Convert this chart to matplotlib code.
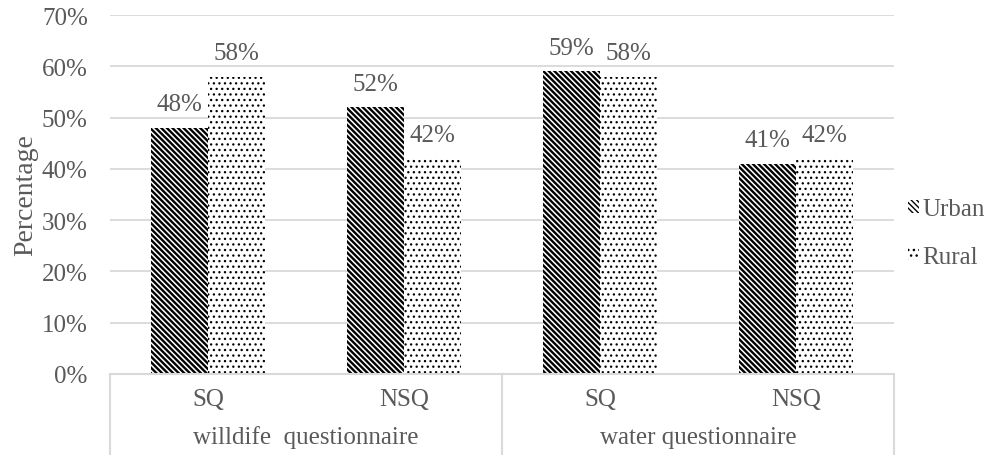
import numpy as np
import matplotlib.pyplot as plt
import matplotlib as mpl
import matplotlib.transforms as mtransforms

mpl.rcParams["font.family"] = "Liberation Serif"

# bar values (%)
categories = ["SQ", "NSQ", "SQ", "NSQ"]
groups = ["willdife  questionnaire", "water questionnaire"]
urban = [48, 52, 59, 41]
rural = [58, 42, 58, 42]
yticks = [0, 10, 20, 30, 40, 50, 60, 70]

grey_txt = "#595959"
grey_line = "#d9d9d9"
fs = 18

fig = plt.figure(figsize=(9.9, 4.6), dpi=100)
ax = fig.add_axes([110 / 990, 85 / 460, 784 / 990, 359 / 460])

x = np.arange(len(categories))
w = 0.29
with mpl.rc_context({"hatch.linewidth": 1.7}):
    b1 = ax.bar(x - w / 2, urban, w, facecolor="white", edgecolor="black",
                linewidth=0, hatch="\\" * 6, zorder=2, label="Urban")
with mpl.rc_context({"hatch.linewidth": 0.9}):
    b2 = ax.bar(x + w / 2, rural, w, facecolor="white", edgecolor="black",
                linewidth=0, hatch="...", zorder=2, label="Rural")

# value labels above the bars
for bars, vals in [(b1, urban), (b2, rural)]:
    for rect, v in zip(bars, vals):
        ax.annotate(f"{v}%", (rect.get_x() + rect.get_width() / 2, v),
                    xytext=(0, 9), textcoords="offset points",
                    ha="center", va="bottom", fontsize=fs, color=grey_txt)

ax.set_xlim(-0.5, len(categories) - 0.5)
ax.set_ylim(0, 70)
ax.set_yticks(yticks)
ax.set_yticklabels([f"{t}%" for t in yticks], fontsize=fs, color=grey_txt)
ax.yaxis.grid(True, color=grey_line, linewidth=1.3, zorder=0)
ax.set_axisbelow(True)
ax.tick_params(axis="y", length=0, pad=16)
ax.set_xticks([])
for s in ["top", "right", "left"]:
    ax.spines[s].set_visible(False)
ax.spines["bottom"].set_color(grey_line)
ax.spines["bottom"].set_linewidth(1.5)
ax.set_ylabel("Percentage", fontsize=20, color=grey_txt, labelpad=3)

# two-level category axis below the plot
trans = mtransforms.blended_transform_factory(ax.transData, ax.transAxes)
depth = -80 / 359
for xs in [-0.5, 1.5, 3.5]:
    ax.plot([xs, xs], [0, depth], transform=trans, color=grey_line,
            linewidth=1.5, clip_on=False)
for xi, c in zip(x, categories):
    ax.text(xi, -25 / 359, c, transform=trans, ha="center", va="center",
            fontsize=fs, color=grey_txt)
for gi, g in enumerate(groups):
    ax.text(gi * 2 + 0.5, -63 / 359, g, transform=trans, ha="center",
            va="center", fontsize=fs, color=grey_txt)

fig.legend([b1, b2], ["Urban", "Rural"], loc="center left",
           bbox_to_anchor=(908 / 990, 226 / 460), frameon=False,
           fontsize=fs, labelcolor=grey_txt, handlelength=0.42,
           handleheight=0.42, handletextpad=0.15, labelspacing=1.0,
           borderaxespad=0, borderpad=0)

fig.savefig("out.png", dpi=100)
